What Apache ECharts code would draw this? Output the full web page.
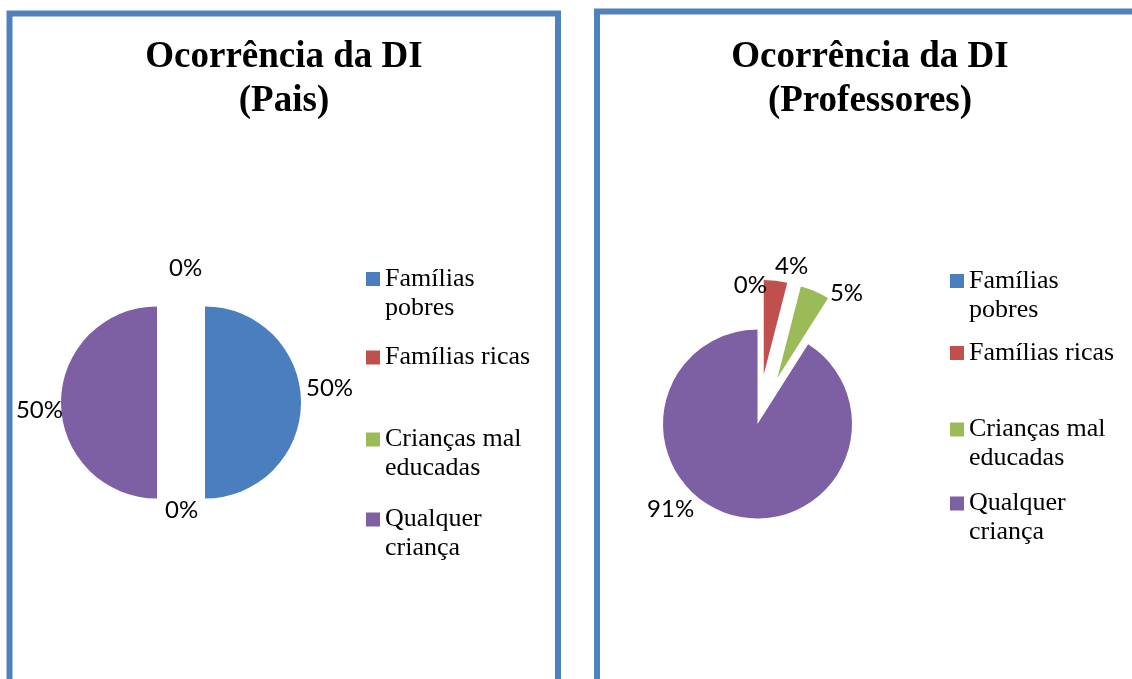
<!DOCTYPE html>
<html>
<head>
<meta charset="utf-8">
<script src="https://cdn.jsdelivr.net/npm/echarts@6/dist/echarts.min.js"></script>
<style>
  html, body { margin: 0; padding: 0; background: #ffffff; }
  #chart { width: 1132px; height: 679px; }
</style>
</head>
<body>
<div id="chart"></div>
<script>
// ---- data ----
const categories = ['Famílias pobres', 'Famílias ricas', 'Crianças mal educadas', 'Qualquer criança'];
const legendLabels = ['Famílias\npobres', 'Famílias ricas', 'Crianças mal\neducadas', 'Qualquer\ncriança'];
const paisValues = [50, 0, 0, 50];
const professoresValues = [0, 4, 5, 91];
const chartTitles = ['Ocorrência da DI\n(Pais)', 'Ocorrência da DI\n(Professores)'];

// ---- styles ----
const colors = ['#4A7EBF', '#C0504D', '#9BBB59', '#7D5FA3'];
const exploded = [[true, false, false, true], [false, true, true, false]];
const labelNudge = [
  [[0, -14.5], [-21, 11.5], [-17, -230.5], [7, 7.5]],
  [[14.5, -44.5], [-5.5, -14.7], [10, 1.5], [-32, -5.7]]
];
const legendTops = [[235.5, 343, 396, 476], [237.5, 338.5, 386, 460]];
const legendLefts = [366, 950];

const chart = echarts.init(document.getElementById('chart'), null, { renderer: 'canvas' });

function makeData(values, sIdx) {
  return categories.map((name, i) => ({
    name: name,
    value: values[i],
    selected: exploded[sIdx][i],
    itemStyle: { color: colors[i] }
  }));
}

const legends = [];
[0, 1].forEach(s => {
  categories.forEach((name, i) => {
    const twoLine = legendLabels[i].indexOf('\n') >= 0;
    legends.push({
      data: [name],
      orient: 'vertical',
      left: legendLefts[s],
      top: legendTops[s][i],
      padding: 0,
      itemWidth: 14,
      itemHeight: 14,
      icon: 'rect',
      selectedMode: false,
      // a leading blank line keeps the icon level with the first text line
      formatter: function () { return twoLine ? ' \n' + legendLabels[i] : legendLabels[i]; },
      textStyle: {
        fontFamily: 'Liberation Serif',
        fontSize: 26,
        lineHeight: 29,
        color: '#000'
      }
    });
  });
});

function pieSeries(values, sIdx, center, radius, offset) {
  return {
    type: 'pie',
    name: chartTitles[sIdx],
    center: center,
    radius: radius,
    startAngle: 90,
    clockwise: true,
    selectedMode: 'multiple',
    selectedOffset: offset,
    avoidLabelOverlap: false,
    percentPrecision: 0,
    data: makeData(values, sIdx),
    label: {
      show: true,
      position: 'outside',
      formatter: '{d}%',
      fontFamily: 'Lato',
      fontSize: 24,
      color: '#000',
      distanceToLabelLine: 5
    },
    labelLine: { show: false, length: 0, length2: 0 },
    labelLayout: function (p) {
      const n = labelNudge[sIdx][p.dataIndex];
      return { dx: n[0], dy: n[1] };
    },
    emphasis: { disabled: true },
    select: { itemStyle: { borderWidth: 0 } },
    itemStyle: { borderWidth: 0 }
  };
}

const option = {
  animation: false,
  backgroundColor: '#ffffff',
  title: [
    {
      text: chartTitles[0], left: 284, top: 35, textAlign: 'center', padding: 0,
      textStyle: { fontFamily: 'Liberation Serif', fontWeight: 'bold', fontSize: 37, lineHeight: 44, color: '#000' }
    },
    {
      text: chartTitles[1], left: 870, top: 35, textAlign: 'center', padding: 0,
      textStyle: { fontFamily: 'Liberation Serif', fontWeight: 'bold', fontSize: 37, lineHeight: 44, color: '#000' }
    }
  ],
  legend: legends,
  graphic: [
    { type: 'rect', shape: { x: 9.5, y: 13.5, width: 548.5, height: 720 },
      style: { fill: 'none', stroke: '#4F81BD', lineWidth: 6 }, silent: true },
    { type: 'rect', shape: { x: 597, y: 11.5, width: 600, height: 720 },
      style: { fill: 'none', stroke: '#4F81BD', lineWidth: 6 }, silent: true }
  ],
  series: [
    pieSeries(paisValues, 0, [181, 402.5], 96, 24),
    pieSeries(professoresValues, 1, [757.5, 424], 94.5, 50)
  ]
};

chart.setOption(option);
</script>
</body>
</html>
